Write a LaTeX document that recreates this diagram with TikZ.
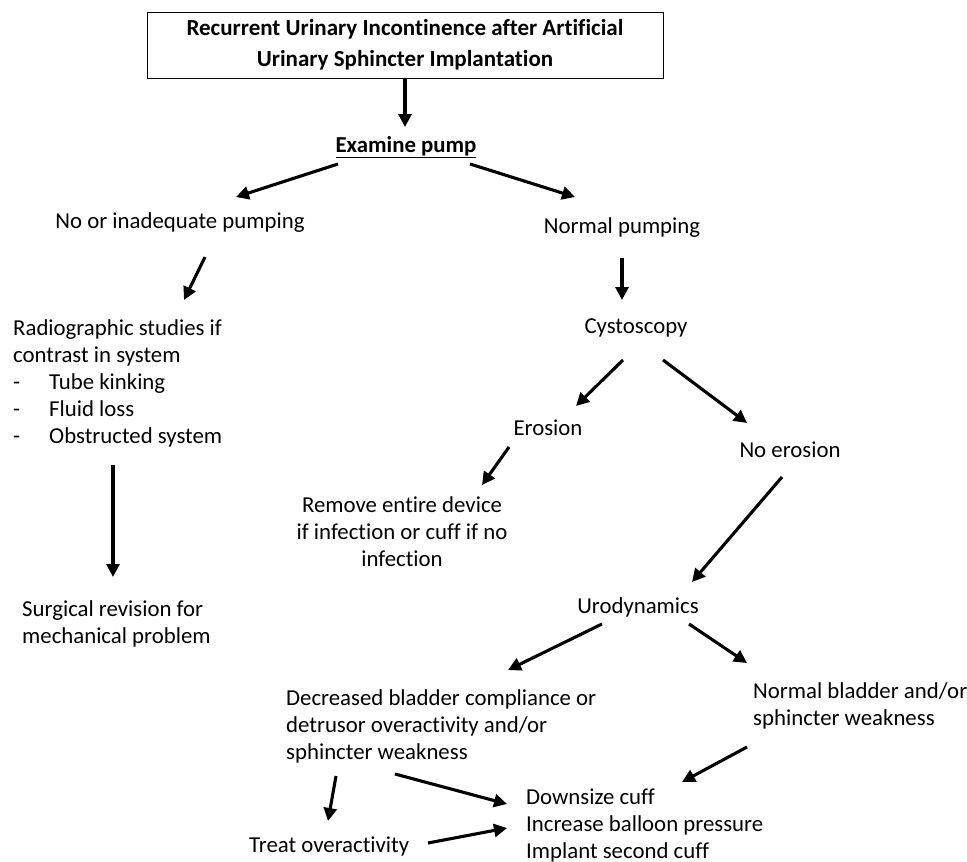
\documentclass[tikz,border=0pt]{standalone}
\usepackage{fontspec}
\setmainfont{Carlito}[Ligatures={NoCommon}]
\usetikzlibrary{arrows.meta,calc}
\begin{document}
\begin{tikzpicture}[x=1pt,y=-1pt,
  txt/.style={font=\fontsize{22.8}{27}\selectfont, inner sep=0pt, align=left},
  arr/.style={line width=3.1pt, -{Triangle[length=13pt,width=13pt]}}]
\useasboundingbox (0,0) rectangle (967,862);
\node[txt, draw, line width=0.8pt, minimum width=516pt, minimum height=66pt, align=center, font=\fontsize{23}{31}\selectfont\bfseries] (title) at (405,45) {Recurrent Urinary Incontinence after Artificial\\Urinary Sphincter Implantation};
\node[txt, font=\fontsize{22.8}{27}\selectfont\bfseries] (exam) at (406,147) {\underline{Examine pump}};
\node[txt] (noinad) at (180,223) {No or inadequate pumping};
\node[txt] (normal) at (622,228) {Normal pumping};
\node[txt, anchor=west] (radio) at (13,383) {Radiographic studies if\\contrast in system\\\makebox[36pt][l]{-}Tube kinking\\\makebox[36pt][l]{-}Fluid loss\\\makebox[36pt][l]{-}Obstructed system};
\node[txt] (cysto) at (636,328) {Cystoscopy};
\node[txt] (erosion) at (548,428) {Erosion};
\node[txt] (noerosion) at (790,450) {No erosion};
\node[txt, align=center] (remove) at (402,532) {Remove entire device\\if infection or cuff if no\\infection};
\node[txt, anchor=west] (surgical) at (22,624) {Surgical revision for\\mechanical problem};
\node[txt] (urodyn) at (638,607) {Urodynamics};
\node[txt, anchor=west] (decreased) at (286,726) {Decreased bladder compliance or\\detrusor overactivity and/or\\sphincter weakness};
\node[txt, anchor=west] (normalbl) at (753,706) {Normal bladder and/or\\sphincter weakness};
\node[txt, anchor=west] (downsize) at (526,825) {Downsize cuff\\Increase balloon pressure\\Implant second cuff};
\node[txt, anchor=west] (treat) at (249,846) {Treat overactivity};
\draw[arr] ($(title.center)+(0,33)$) -- ($(exam.center)+(-1,-20)$);
\draw[arr] ($(exam.center)+(-68,17)$) -- ($(noinad.center)+(56,-26)$);
\draw[arr] ($(exam.center)+(64,17)$) -- ($(normal.center)+(-47,-31)$);
\draw[arr] ($(noinad.center)+(25,34)$) -- ($(radio.west)+(171,-83)$);
\draw[arr] ($(normal.center)+(0,30)$) -- ($(cysto.center)+(-14,-28)$);
\draw[arr] ($(cysto.center)+(-13,32)$) -- ($(erosion.center)+(28,-22)$);
\draw[arr] ($(cysto.center)+(27,32)$) -- ($(noerosion.center)+(-43,-27)$);
\draw[arr] ($(erosion.center)+(-39,19)$) -- ($(remove.center)+(80,-47)$);
\draw[arr] ($(radio.west)+(100,82)$) -- ($(surgical.west)+(91,-47)$);
\draw[arr] ($(noerosion.center)+(-8,27)$) -- ($(urodyn.center)+(54,-25)$);
\draw[arr] ($(urodyn.center)+(-36,17)$) -- ($(decreased.west)+(222,-56)$);
\draw[arr] ($(urodyn.center)+(51,17)$) -- ($(normalbl.west)+(-6,-43)$);
\draw[arr] ($(normalbl.west)+(-6,41)$) -- ($(downsize.west)+(156,-43)$);
\draw[arr] ($(decreased.west)+(50,50)$) -- ($(treat.west)+(79,-25)$);
\draw[arr] ($(decreased.west)+(109,48)$) -- ($(downsize.west)+(-19,-21)$);
\draw[arr] ($(treat.west)+(179,-3)$) -- ($(downsize.west)+(-19,3)$);
\end{tikzpicture}
\end{document}
